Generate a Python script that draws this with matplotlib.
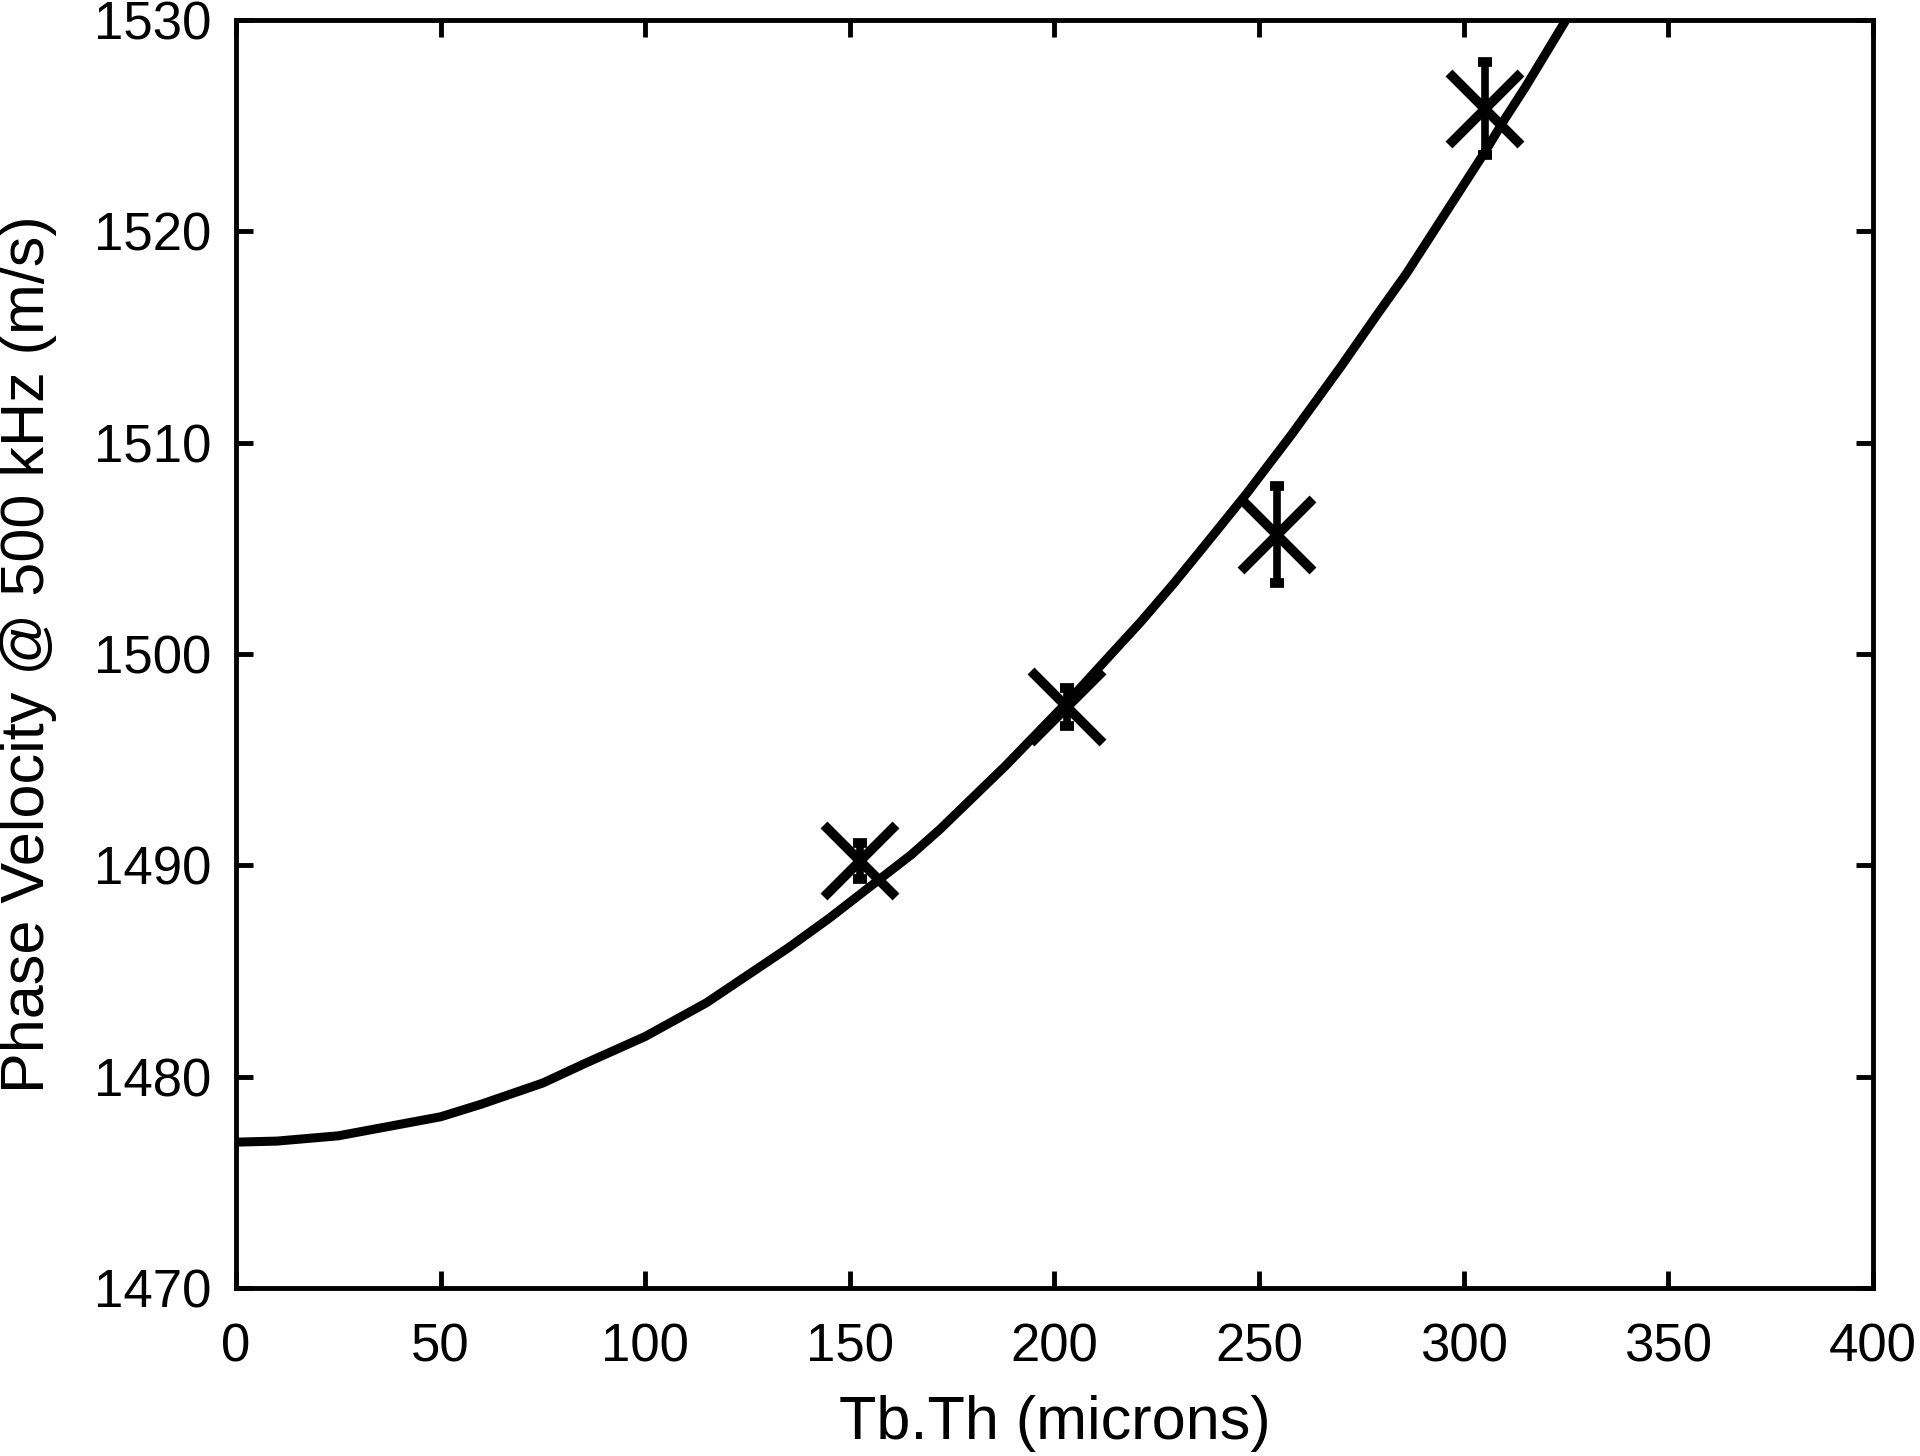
"""Phase velocity at 500 kHz against trabecular thickness, with model curve."""

from matplotlib import pyplot as plt

# measured points (Tb.Th in microns, velocity in m/s, error bar half-height)
thickness = [152.5, 203.0, 254.3, 305.2]
velocity = [1490.2, 1497.5, 1505.65, 1525.8]
velocity_err = [0.85, 0.9, 2.3, 2.2]

# model curve
curve_thickness = [0, 10, 25, 50, 60, 75, 85, 100, 115, 125, 135, 145, 157,
                   165, 172, 180, 188, 196, 204, 212, 221, 229, 237, 247,
                   258, 264, 270, 279, 286, 293, 299, 305, 310, 315, 320, 325]
curve_velocity = [1476.9, 1476.95, 1477.2, 1478.1, 1478.7, 1479.7, 1480.6,
                  1481.9, 1483.5, 1484.8, 1486.1, 1487.5, 1489.3, 1490.5,
                  1491.7, 1493.2, 1494.7, 1496.3, 1497.9, 1499.6, 1501.5,
                  1503.3, 1505.2, 1507.6, 1510.4, 1512.0, 1513.6, 1516.1,
                  1518.0, 1520.1, 1521.9, 1523.7, 1525.3, 1526.8, 1528.4,
                  1530.0]

x_ticks = [0, 50, 100, 150, 200, 250, 300, 350, 400]
y_ticks = [1470, 1480, 1490, 1500, 1510, 1520, 1530]


def main():
    """Draws the curve and the measured points and saves out.png."""
    plt.rcParams["font.family"] = ["Liberation Sans", "DejaVu Sans"]
    fig = plt.figure(figsize=(19.2, 14.56), dpi=100)
    ax = fig.add_axes([0.1229, 0.1154, 0.8526, 0.8709])

    ax.plot(curve_thickness, curve_velocity, color="black", lw=6.5,
            solid_capstyle="butt", solid_joinstyle="round")
    ax.errorbar(thickness, velocity, yerr=velocity_err, fmt="x",
                color="black", ms=52, mew=7, elinewidth=5.5, capsize=5,
                capthick=5.5)

    ax.set_xlim(0, 400)
    ax.set_ylim(1470, 1530)
    ax.set_xticks(x_ticks)
    ax.set_yticks(y_ticks)
    ax.tick_params(direction="in", top=True, right=True, length=12.5,
                   width=3.5, labelsize=38)
    ax.tick_params(axis="x", pad=25)
    ax.tick_params(axis="y", pad=18)
    for spine in ax.spines.values():
        spine.set_linewidth(3.5)

    ax.set_xlabel("Tb.Th (microns)", fontsize=44, labelpad=16)
    ax.set_ylabel("Phase Velocity @ 500 kHz (m/s)", fontsize=44, labelpad=26)

    fig.savefig("out.png")
    plt.close(fig)


if __name__ == "__main__":
    main()
